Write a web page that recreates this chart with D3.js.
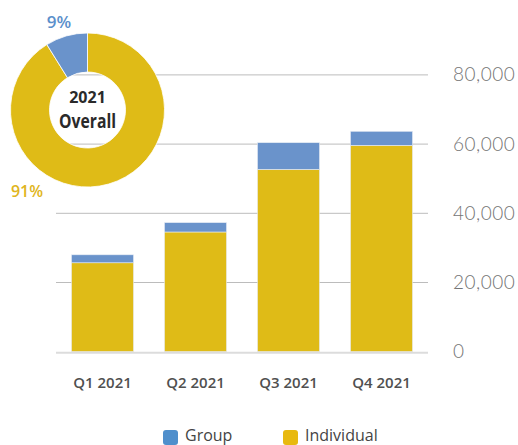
<!DOCTYPE html>
<html>
<head>
<meta charset="utf-8">
<script src="https://cdn.jsdelivr.net/npm/d3@7"></script>
<style>
  body { margin: 0; background: #fff; }
  svg { display: block; }
</style>
</head>
<body>
<svg id="chart" width="518" height="445"></svg>
<script>
// data
const quarters = ["Q1 2021", "Q2 2021", "Q3 2021", "Q4 2021"];
const individual = [25700, 34600, 52700, 59650];
const group = [2300, 2700, 7700, 4050];
const yTicks = [0, 20000, 40000, 60000, 80000];
const seriesNames = ["Group", "Individual"];
const donutLabels = ["91%", "9%"];

const blue = "#6a93cb", gold = "#dfbb17";

const svg = d3.select("#chart");

const x = d3.scaleBand()
  .domain(quarters)
  .range([56, 428])
  .paddingInner(1 / 3)
  .paddingOuter(1 / 6);

const y = d3.scaleLinear()
  .domain([0, 80000])
  .range([351.7, 74.9]);

// gridlines
svg.append("g")
  .selectAll("line")
  .data(yTicks.filter(d => d > 0))
  .enter().append("line")
  .attr("x1", 56).attr("x2", 428)
  .attr("y1", d => y(d)).attr("y2", d => y(d))
  .attr("stroke", "#bcbcbc")
  .attr("stroke-width", 1);

// stacked bars
const rows = quarters.map((q, i) => ({ q: q, Individual: individual[i], Group: group[i] }));
const stacked = d3.stack().keys(["Individual", "Group"])(rows);
const colors = { Individual: gold, Group: blue };

svg.append("g")
  .selectAll("g")
  .data(stacked)
  .enter().append("g")
  .attr("fill", d => colors[d.key])
  .selectAll("rect")
  .data(d => d)
  .enter().append("rect")
  .attr("x", d => x(d.data.q))
  .attr("width", x.bandwidth())
  .attr("y", d => y(d[1]))
  .attr("height", d => y(d[0]) - y(d[1]))
  .attr("stroke", "#e6ecf4")
  .attr("stroke-width", 0.6);

// baseline
svg.append("line")
  .attr("x1", 56).attr("x2", 428)
  .attr("y1", y(0) + 1).attr("y2", y(0) + 1)
  .attr("stroke", "#dcdcdc")
  .attr("stroke-width", 2);

// right axis
const yAxis = svg.append("g")
  .attr("transform", "translate(453,0)")
  .call(d3.axisRight(y).tickValues(yTicks).tickSize(0).tickPadding(0).tickFormat(d3.format(",")));
yAxis.select(".domain").remove();
yAxis.selectAll("text")
  .attr("font-family", "Lato, sans-serif")
  .attr("font-weight", 300)
  .attr("font-size", 19)
  .attr("fill", "#757575")
  .attr("letter-spacing", 0.5);

// x axis labels
const xAxis = svg.append("g")
  .attr("transform", "translate(0,377)")
  .call(d3.axisBottom(x).tickSize(0).tickPadding(0));
xAxis.select(".domain").remove();
xAxis.selectAll("text")
  .attr("font-family", "'Open Sans', sans-serif")
  .attr("font-weight", 600)
  .attr("font-size", 15)
  .attr("fill", "#505050");

// donut
const totalInd = d3.sum(individual), totalGrp = d3.sum(group);
const pie = d3.pie().sort(null)([totalInd, totalGrp]);
const arc = d3.arc().innerRadius(38).outerRadius(77);
const donut = svg.append("g").attr("transform", "translate(87.5,110)");
donut.selectAll("path")
  .data(pie)
  .enter().append("path")
  .attr("d", arc)
  .attr("fill", (d, i) => i === 0 ? gold : blue)
  .attr("stroke", "#fff")
  .attr("stroke-width", 0.8);

donut.append("text")
  .attr("text-anchor", "middle")
  .attr("y", -7)
  .attr("font-family", "'Open Sans', sans-serif")
  .attr("font-weight", 700)
  .attr("font-size", 16)
  .attr("fill", "#2a2a2a")
  .text("2021");
donut.append("text")
  .attr("text-anchor", "middle")
  .attr("y", 18)
  .attr("font-family", "'Open Sans', sans-serif")
  .attr("font-weight", 700)
  .attr("font-size", 20)
  .attr("textLength", 57)
  .attr("lengthAdjust", "spacingAndGlyphs")
  .attr("fill", "#2a2a2a")
  .text("Overall");

svg.append("text")
  .attr("x", 59).attr("y", 28)
  .attr("text-anchor", "middle")
  .attr("font-family", "'Open Sans', sans-serif")
  .attr("font-weight", 600)
  .attr("font-size", 17)
  .attr("fill", "#5b8fcb")
  .text(donutLabels[1]);
svg.append("text")
  .attr("x", 27).attr("y", 197)
  .attr("text-anchor", "middle")
  .attr("font-family", "'Open Sans', sans-serif")
  .attr("font-weight", 600)
  .attr("font-size", 16)
  .attr("fill", "#e0b520")
  .text(donutLabels[0]);

// legend
const legendX = [163, 283];
const legendColors = ["#4f8fcc", "#e8b90f"];
const legend = svg.append("g")
  .selectAll("g")
  .data(seriesNames)
  .enter().append("g")
  .attr("transform", (d, i) => "translate(" + legendX[i] + ",430)");
legend.append("rect")
  .attr("width", 15).attr("height", 15)
  .attr("rx", 3)
  .attr("fill", (d, i) => legendColors[i]);
legend.append("text")
  .attr("x", 22).attr("y", 11)
  .attr("font-family", "'Open Sans', sans-serif")
  .attr("font-size", 16)
  .attr("fill", "#444")
  .text(d => d);
</script>
</body>
</html>
